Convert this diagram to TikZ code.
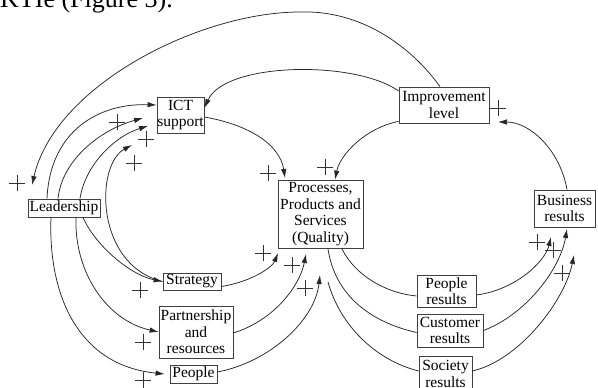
\documentclass[tikz,border=0pt]{standalone}
\usepackage{fontspec}
\setmainfont{Liberation Serif}
\usetikzlibrary{arrows.meta,calc}
\tikzset{
  box/.style={draw=black!75, line width=0.8pt, inner sep=0pt, align=center,
    font=\fontsize{15.5}{16.5}\selectfont},
  conn/.style={draw=black!85, line width=0.75pt},
  arr/.style={conn, -{Latex[length=9pt,width=5.5pt]}},
  plusline/.style={draw=black!80, line width=0.7pt},
  plusmark/.pic={\draw[plusline] (-8,0) -- (8,0) (0,-8) -- (0,8);}
}
\begin{document}
\begin{tikzpicture}[x=1pt,y=-1pt]
\useasboundingbox (0,0) rectangle (598,388);
\clip (0,0) rectangle (598,388);
% caption fragment
\node[anchor=base west, inner sep=0pt, font=\fontsize{26}{28}\selectfont] (cap) at (0,8) {KTIe (Figure 3).};
% nodes
\node[box, minimum width=72pt, minimum height=18pt] (lead) at (64,208) {Leadership};
\node[box, minimum width=47pt, minimum height=36pt] (ict) at (180.5,115) {ICT\\support};
\node[box, minimum width=90pt, minimum height=36pt] (imp) at (444,105) {Improvement\\level};
\node[box, minimum width=85pt, minimum height=68pt] (proc) at (320.5,214) {Processes,\\Products and\\Services\\(Quality)};
\node[box, minimum width=61pt, minimum height=37pt] (bus) at (564.5,208.5) {Business\\results};
\node[box, minimum width=58pt, minimum height=17pt] (strat) at (192,281.5) {Strategy};
\node[box, minimum width=74pt, minimum height=52pt] (part) at (196,332) {Partnership\\and\\resources};
\node[box, minimum width=47pt, minimum height=18pt] (peop) at (193.5,374) {People};
\node[box, minimum width=59pt, minimum height=32pt] (pres) at (446.5,291) {People\\results};
\node[box, minimum width=66pt, minimum height=33pt] (cres) at (450,330.5) {Customer\\results};
\node[box, minimum width=53pt, minimum height=36pt] (sres) at (445.5,374) {Society\\results};
% free connector ends
\coordinate (toparc) at (300,12);
\coordinate (leadIn) at (32,185);
\coordinate (impIn) at (498,122);
\coordinate (procA) at (285,178);
\coordinate (ictB) at (143,118);
\coordinate (ictC) at (148,126);
\coordinate (ictD) at (132,145);
\coordinate (procB) at (278,253);
\coordinate (procC) at (306,254);
\coordinate (procD) at (320,275);
\coordinate (procE) at (342,249);
\coordinate (procF) at (328,249);
\coordinate (procG) at (328,282);
\coordinate (busA) at (551,237);
\coordinate (busB) at (567,229);
\coordinate (busC) at (574,255);
% connectors
\draw[arr] ($(imp.north)+(-4,0)$) .. controls (410,45) and (360,10) .. (toparc)
  .. controls (200,12) and (55,85) .. (leadIn);
\draw[arr] ($(imp.west)+(0,-14)$) .. controls (355,60) and (225,62) .. ($(ict.east)+(0,-7)$);
\draw[arr] ($(imp.south west)+(0,-2)$) .. controls (365,128) and (340,155) .. ($(proc.north)+(14.5,0)$);
\draw[arr] ($(bus.north)+(2.5,0)$) .. controls (560,150) and (530,122) .. (impIn);
\draw[arr] ($(ict.east)+(0,2)$) .. controls (250,125) and (280,145) .. (procA);
\draw[arr] ($(lead.north)+(-17,0)$) .. controls (50,130) and (100,103) .. ($(ict.west)+(0,-10)$);
\draw[arr] ($(lead.north)+(-6,0)$) .. controls (62,160) and (100,130) .. (ictB);
\draw[arr] ($(lead.north)+(16,0)$) .. controls (85,165) and (115,136) .. (ictC);
\draw[arr] (strat.west) .. controls (95,265) and (95,165) .. (ictD);
\draw[arr] ($(lead.south)+(19,0)$) .. controls (95,245) and (130,275) .. (strat.west);
\draw[arr] ($(lead.south)+(12,0)$) .. controls (74,270) and (105,320) .. (part.west);
\draw[arr] ($(lead.south)+(-13,0)$) .. controls (48,290) and (75,365) .. ($(peop.west)+(-5,0)$);
\draw[arr] ($(strat.east)+(0,5)$) .. controls (250,282) and (272,268) .. (procB);
\draw[arr] ($(part.east)+(0,1)$) .. controls (275,320) and (300,285) .. (procC);
\draw[arr] ($(peop.east)+(0,-2)$) .. controls (270,362) and (315,320) .. (procD);
\draw[conn] (procE) .. controls (355,275) and (385,293) .. ($(pres.west)+(0,5)$);
\draw[conn] (procF) .. controls (335,295) and (370,322) .. ($(cres.west)+(0,2)$);
\draw[conn] (procG) .. controls (340,325) and (375,360) .. ($(sres.west)+(0,-3)$);
\draw[arr] ($(pres.east)+(0,4)$) .. controls (515,290) and (545,262) .. (busA);
\draw[arr] (cres.east) .. controls (525,315) and (560,270) .. (busB);
\draw[arr] ($(sres.east)+(0,-3)$) .. controls (520,360) and (565,300) .. (busC);
% plus marks
\foreach \p in {(17,183),(117,122),(146,139),(134,163),(268,173),(325,167),(498,108),
  (140,290),(143,342),(143,380),(263,253),(292,265),(305,288),(537,242),(553,250),(562,273)}
  \pic at \p {plusmark};
\end{tikzpicture}
\end{document}
